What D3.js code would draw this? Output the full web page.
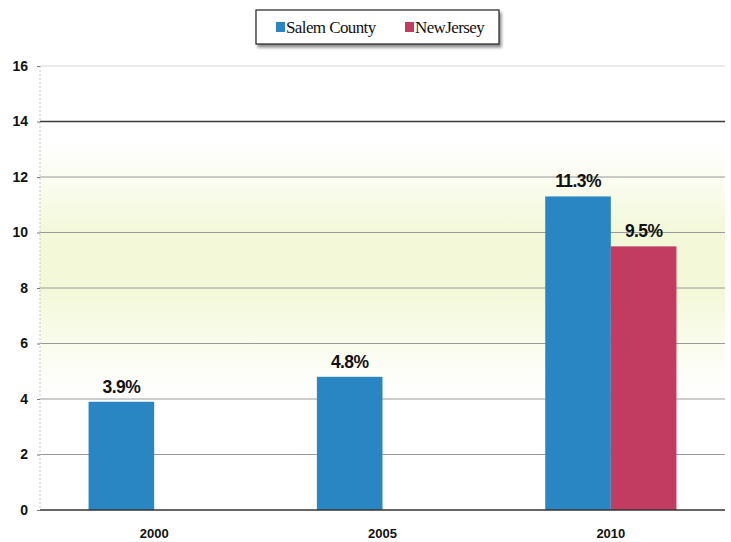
<!DOCTYPE html>
<html>
<head>
<meta charset="utf-8">
<script src="https://cdn.jsdelivr.net/npm/d3@7"></script>
<style>
  html, body { margin: 0; padding: 0; background: #fff; }
  svg { display: block; }
</style>
</head>
<body>
<svg id="chart" width="731" height="542"></svg>
<script>
// Unemployment rate, Salem County vs. New Jersey
const years = ["2000", "2005", "2010"];
const seriesNames = ["Salem County", "New Jersey"];
const salemCounty = [3.9, 4.8, 11.3];
const newJersey = [null, null, 9.5];
const yTicks = [0, 2, 4, 6, 8, 10, 12, 14, 16];
const seriesColors = ["#2a86c3", "#c23c62"];

const svg = d3.select("#chart");
const margin = { left: 40, right: 6, top: 66, bottom: 32 };
const W = 731, H = 542;
const plotW = W - margin.left - margin.right;
const plotH = H - margin.top - margin.bottom;

const x = d3.scaleBand().domain(years).range([margin.left, margin.left + plotW]).paddingInner(0).paddingOuter(0);
const x1 = d3.scaleBand().domain(seriesNames).range([0, x.bandwidth()]).paddingInner(0).paddingOuter(0.74);
const y = d3.scaleLinear().domain([0, 16]).range([margin.top + plotH, margin.top]);

// soft yellow-green wash behind the middle of the plot
const defs = svg.append("defs");
const grad = defs.append("linearGradient").attr("id", "wash").attr("x1", 0).attr("x2", 0).attr("y1", 0).attr("y2", 1);
[["0%", "#ffffff"], ["17%", "#ffffff"], ["28%", "#f9fcec"], ["38%", "#f3f8d9"],
 ["50%", "#f3f8d8"], ["60%", "#f8fbe8"], ["70%", "#fdfefa"], ["76%", "#ffffff"], ["100%", "#ffffff"]]
  .forEach(([o, c]) => grad.append("stop").attr("offset", o).attr("stop-color", c));

const shadow = defs.append("filter").attr("id", "shadow").attr("x", "-10%").attr("y", "-20%").attr("width", "130%").attr("height", "160%");
shadow.append("feGaussianBlur").attr("in", "SourceAlpha").attr("stdDeviation", 1.5);
shadow.append("feOffset").attr("dx", 2).attr("dy", 3).attr("result", "off");
shadow.append("feComponentTransfer").append("feFuncA").attr("type", "linear").attr("slope", 0.45);
const merge = shadow.append("feMerge");
merge.append("feMergeNode");
merge.append("feMergeNode").attr("in", "SourceGraphic");

svg.append("rect")
  .attr("x", margin.left).attr("y", y(16))
  .attr("width", plotW).attr("height", y(0) - y(16))
  .attr("fill", "url(#wash)");

// horizontal gridlines
svg.append("g")
  .selectAll("line")
  .data(yTicks.filter(d => d > 0))
  .join("line")
  .attr("x1", margin.left).attr("x2", margin.left + plotW)
  .attr("y1", d => y(d)).attr("y2", d => y(d))
  .attr("stroke", d => d === 14 ? "#3a3a3a" : (d === 16 ? "#d6d6d6" : "#9a9a9a"))
  .attr("stroke-width", d => d === 14 ? 1.3 : 1);

// left axis line
svg.append("line")
  .attr("x1", margin.left).attr("x2", margin.left)
  .attr("y1", y(16)).attr("y2", y(0))
  .attr("stroke", "#c8c8c8").attr("stroke-dasharray", "2,2");

// y axis
const yAxis = d3.axisLeft(y).tickValues(yTicks).tickSize(3).tickPadding(9).tickFormat(d3.format("d"));
const gy = svg.append("g").attr("transform", `translate(${margin.left},0)`).call(yAxis);
gy.select(".domain").remove();
gy.selectAll(".tick line").attr("stroke", "#777");
gy.selectAll("text")
  .attr("font-family", "Liberation Sans, Arial, sans-serif")
  .attr("font-weight", "bold").attr("font-size", 14).attr("fill", "#111");

// bars
const data = years.map((yr, i) => ({ year: yr, values: [salemCounty[i], newJersey[i]] }));
const groups = svg.append("g").selectAll("g").data(data).join("g")
  .attr("transform", d => `translate(${x(d.year)},0)`);

groups.selectAll("rect")
  .data(d => d.values.map((v, j) => ({ v, name: seriesNames[j], j })).filter(e => e.v != null))
  .join("rect")
  .attr("x", e => x1(e.name))
  .attr("width", x1.bandwidth())
  .attr("y", e => y(e.v))
  .attr("height", e => y(0) - y(e.v))
  .attr("fill", e => seriesColors[e.j]);

groups.selectAll("text")
  .data(d => d.values.map((v, j) => ({ v, name: seriesNames[j], j })).filter(e => e.v != null))
  .join("text")
  .attr("x", e => x1(e.name) + x1.bandwidth() / 2)
  .attr("y", e => y(e.v) - 9)
  .attr("text-anchor", "middle")
  .attr("font-family", "Liberation Sans, Arial, sans-serif")
  .attr("font-weight", "bold").attr("font-size", 17.5).attr("fill", "#111")
  .attr("letter-spacing", -0.6)
  .text(e => d3.format(".1f")(e.v) + "%");

// baseline
svg.append("line")
  .attr("x1", margin.left).attr("x2", margin.left + plotW)
  .attr("y1", y(0)).attr("y2", y(0))
  .attr("stroke", "#333").attr("stroke-width", 1.3);

// x axis labels
const xAxis = d3.axisBottom(x).tickSize(0).tickPadding(19);
const gx = svg.append("g").attr("transform", `translate(0,${y(0)})`).call(xAxis);
gx.select(".domain").remove();
gx.selectAll("text")
  .attr("font-family", "Liberation Sans Narrow, Arial Narrow, Liberation Sans, sans-serif")
  .attr("font-weight", "bold").attr("font-size", 13).attr("fill", "#111");

// legend
const legend = svg.append("g").attr("transform", "translate(256,10)");
legend.append("rect")
  .attr("width", 243).attr("height", 34)
  .attr("fill", "#fff").attr("stroke", "#222").attr("stroke-width", 1.2)
  .attr("filter", "url(#shadow)");
const legendX = [20, 149];
seriesNames.forEach((name, j) => {
  legend.append("rect")
    .attr("x", legendX[j]).attr("y", 12).attr("width", 9).attr("height", 10)
    .attr("fill", seriesColors[j]);
  legend.append("text")
    .attr("x", legendX[j] + 10).attr("y", 23)
    .attr("font-family", "Liberation Serif, Times New Roman, serif")
    .attr("font-size", 17).attr("fill", "#111")
    .attr("letter-spacing", -0.6)
    .text(name === "New Jersey" ? "NewJersey" : name);
});
</script>
</body>
</html>
